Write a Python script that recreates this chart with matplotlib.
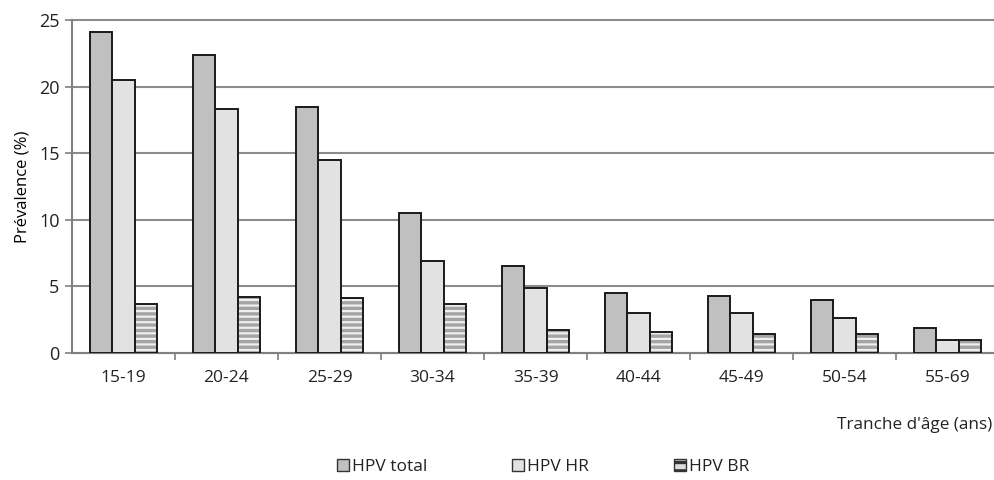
import numpy as np
import matplotlib
matplotlib.use("Agg")
from matplotlib import pyplot as plt
from matplotlib.patches import Patch

plt.rcParams['font.family'] = ['Open Sans', 'DejaVu Sans']
plt.rcParams['hatch.linewidth'] = 2.4
plt.rcParams['text.color'] = '#222222'
plt.rcParams['xtick.labelcolor'] = '#222222'
plt.rcParams['ytick.labelcolor'] = '#222222'

age_groups = ['15-19', '20-24', '25-29', '30-34', '35-39',
              '40-44', '45-49', '50-54', '55-69']
hpv_total = [24.1, 22.4, 18.5, 10.5, 6.5, 4.5, 4.3, 4.0, 1.9]
hpv_hr = [20.5, 18.3, 14.5, 6.9, 4.9, 3.0, 3.0, 2.65, 0.95]
hpv_br = [3.7, 4.2, 4.1, 3.7, 1.7, 1.6, 1.4, 1.4, 0.95]
y_ticks = [0, 5, 10, 15, 20, 25]

x = np.arange(len(age_groups))
w = 0.22
edge = '#1a1a1a'

fig = plt.figure(figsize=(9.94, 4.8), dpi=100)
ax = fig.add_axes([72 / 994, 1 - 353 / 480, 927 / 994, 333 / 480])

ax.bar(x - w, hpv_total, w, color='#c0c0c0', edgecolor=edge, linewidth=1.4, zorder=3)
ax.bar(x, hpv_hr, w, color='#e2e2e2', edgecolor=edge, linewidth=1.4, zorder=3)
# striped bars: hatch in grey, outline drawn on top in dark
ax.bar(x + w, hpv_br, w, color='#efefef', edgecolor='#a4a4a4', hatch='---',
       linewidth=0, zorder=3)
ax.bar(x + w, hpv_br, w, fill=False, edgecolor=edge, linewidth=1.4, zorder=4)

ax.set_xlim(-0.5, len(age_groups) - 0.5)
ax.set_ylim(0, 25)
ax.set_yticks(y_ticks)
ax.set_xticks(x)
ax.set_xticklabels(age_groups, fontsize=12.5)
ax.set_xticks(np.arange(len(age_groups)) + 0.5, minor=True)
ax.tick_params(axis='x', which='major', length=0, pad=12)
ax.tick_params(axis='x', which='minor', length=5, color='#808080', width=1.2)
ax.tick_params(axis='y', length=5, color='#808080', width=1.2, labelsize=13, pad=4)

ax.yaxis.grid(True, color='#8c8c8c', linewidth=1.5, zorder=0)
for g in ax.get_ygridlines():
    g.set_clip_on(False)
ax.set_axisbelow(True)
for s in ['top', 'right']:
    ax.spines[s].set_visible(False)
for s in ['left', 'bottom']:
    ax.spines[s].set_color('#808080')
    ax.spines[s].set_linewidth(1.5)

ax.set_ylabel('Prévalence (%)', fontsize=12, labelpad=6)
fig.text(992 / 994, 1 - 425 / 480, "Tranche d'âge (ans)", ha='right', va='center', fontsize=12.3)

handles = [Patch(facecolor='#c0c0c0', edgecolor='#333333'),
           Patch(facecolor='#e2e2e2', edgecolor='#333333'),
           Patch(facecolor='#dcdcdc', edgecolor='#333333', hatch='--')]
fig.legend(handles, ['HPV total', 'HPV HR', 'HPV BR'], loc='center',
           bbox_to_anchor=(543 / 994, 1 - 467 / 480), ncol=3, frameon=False,
           fontsize=12.5, handlelength=0.7, handleheight=0.7, handletextpad=0.15,
           columnspacing=4.9)

fig.savefig('out.png', dpi=100)
